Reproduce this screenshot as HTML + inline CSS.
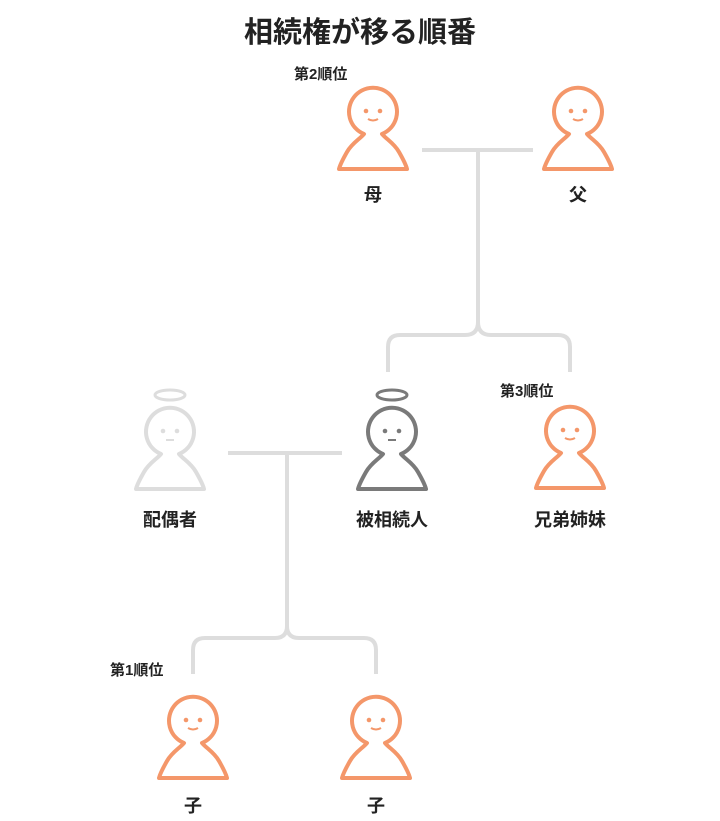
<!DOCTYPE html>
<html><head><meta charset="utf-8"><style>
body{margin:0;background:#fff;width:720px;height:816px;overflow:hidden;font-family:"Liberation Sans","Noto Sans CJK JP",sans-serif}
</style></head><body>
<svg width="720" height="816" viewBox="0 0 720 816" xmlns="http://www.w3.org/2000/svg">
<defs>
<path id="p" d="M28,47 A24,24 0 1 1 46,47 C50,52 58,56 63,65 C67,72 70,78 71,82 L3,82 C4,78 7,72 11,65 C16,56 24,52 28,47 Z" fill="none" stroke-width="4" stroke-linejoin="round"/>
<g id="face"><circle cx="30" cy="24" r="2.3"/><circle cx="44" cy="24" r="2.3"/></g>
</defs>
<g font-weight="bold" fill="#222" text-anchor="middle">
<text x="360" y="42" font-size="29">相続権が移る順番</text>
<text x="373" y="201" font-size="18">母</text>
<text x="578" y="201" font-size="18">父</text>
<text x="170" y="526" font-size="18">配偶者</text>
<text x="392" y="526" font-size="18">被相続人</text>
<text x="570" y="526" font-size="18">兄弟姉妹</text>
<text x="193" y="812" font-size="18">子</text>
<text x="376" y="812" font-size="18">子</text>
</g>
<g font-weight="bold" fill="#222" font-size="15">
<text x="294" y="79">第2順位</text>
<text x="500" y="396">第3順位</text>
<text x="110" y="675">第1順位</text>
</g>
<g fill="none" stroke="#ddd" stroke-width="4">
<path d="M422,150 H533 M478,150 V322 Q478,335 465,335 H400 Q388,335 388,347 V372 M478,322 Q478,335 491,335 H558 Q570,335 570,347 V372"/>
<path d="M228,453 H342 M287,453 V626 Q287,638 275,638 H205 Q193,638 193,650 V674 M287,626 Q287,638 299,638 H364 Q376,638 376,650 V674"/>
</g>
<g transform="translate(336,87)"><use href="#p" stroke="#f4976a"/><g fill="#f4976a"><use href="#face"/></g><path d="M32,32 Q37,35 42,32" stroke="#f4976a" stroke-width="2" fill="none"/></g>
<g transform="translate(541,87)"><use href="#p" stroke="#f4976a"/><g fill="#f4976a"><use href="#face"/></g><path d="M32,32 Q37,35 42,32" stroke="#f4976a" stroke-width="2" fill="none"/></g>
<g transform="translate(533,406)"><use href="#p" stroke="#f4976a"/><g fill="#f4976a"><use href="#face"/></g><path d="M32,32 Q37,35 42,32" stroke="#f4976a" stroke-width="2" fill="none"/></g>
<g transform="translate(156,696)"><use href="#p" stroke="#f4976a"/><g fill="#f4976a"><use href="#face"/></g><path d="M32,32 Q37,35 42,32" stroke="#f4976a" stroke-width="2" fill="none"/></g>
<g transform="translate(339,696)"><use href="#p" stroke="#f4976a"/><g fill="#f4976a"><use href="#face"/></g><path d="M32,32 Q37,35 42,32" stroke="#f4976a" stroke-width="2" fill="none"/></g>
<g transform="translate(355,407)"><use href="#p" stroke="#7a7a7a"/><g fill="#7a7a7a"><use href="#face"/></g><path d="M33,33 H41" stroke="#7a7a7a" stroke-width="2"/><ellipse cx="37" cy="-12" rx="15" ry="5" fill="none" stroke="#7a7a7a" stroke-width="3"/></g>
<g transform="translate(133,407)"><use href="#p" stroke="#ddd"/><g fill="#ddd"><use href="#face"/></g><path d="M33,33 H41" stroke="#ddd" stroke-width="2"/><ellipse cx="37" cy="-12" rx="15" ry="5" fill="none" stroke="#ddd" stroke-width="3"/></g>
</svg>
</body></html>
